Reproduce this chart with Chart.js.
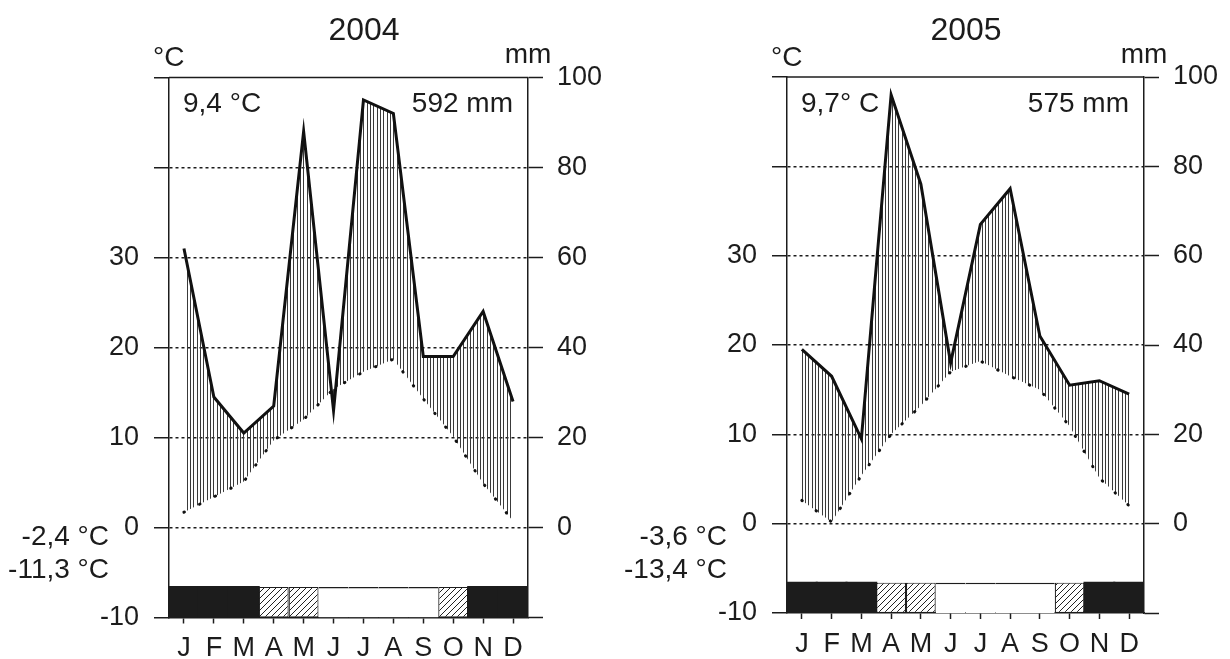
<!DOCTYPE html>
<html><head><meta charset="utf-8">
<script src="https://cdn.jsdelivr.net/npm/chart.js@4.4.1/dist/chart.umd.min.js"></script>
<style>
html,body{margin:0;padding:0;background:#fff;}
#wrap{position:relative;width:1230px;height:659px;overflow:hidden;}
canvas{position:absolute;top:0;}
</style></head>
<body><div id="wrap">
<canvas id="c2004" width="615" height="659" style="left:0px"></canvas>
<canvas id="c2005" width="615" height="659" style="left:615px"></canvas>
</div>
<script>
// ---- data ----
const months = ['J','F','M','A','M','J','J','A','S','O','N','D'];
const temp2004 = [1.7, 3.4, 5.1, 9.7, 12.0, 15.4, 17.3, 18.7, 14.3, 10.1, 4.9, 0.7];   // °C
const precip2004 = [62, 29, 21, 27, 88, 26, 95, 92, 38, 38, 48, 28];                 // mm
const temp2005 = [2.6, 0.2, 5.4, 10.0, 13.2, 17.0, 18.2, 16.5, 15.0, 10.9, 5.1, 2.0];
const precip2005 = [39, 33, 19, 96, 76, 36, 67, 75, 42, 31, 32, 29];
// frost: 2 = frost months (black), 1 = possible frost (hatched), 0 = frost-free
const frost2004 = [2, 2, 2, 1, 1, 0, 0, 0, 0, 1, 2, 2];
const frost2005 = [2, 2, 2, 1, 1, 0, 0, 0, 0, 1, 2, 2];
const tempTicks = [-10, 0, 10, 20, 30];
const precipTicks = [0, 20, 40, 60, 80, 100];
const titles = ['2004', '2005'];
const meanTemps = ['9,4 °C', '9,7° C'];
const totals = ['592 mm', '575 mm'];
const minMeans = ['-2,4 °C', '-3,6 °C'];
const absMins = ['-11,3 °C', '-13,4 °C'];

const BAND_BOTTOM = -10, BAND_TOP = -6.6;
const FONT = '"Liberation Sans", Arial, sans-serif';
const INK = '#1c1c1c';

function vHatch() {
  const c = document.createElement('canvas'); c.width = 10; c.height = 4;
  const g = c.getContext('2d');
  g.fillStyle = '#3a3a3a';
  [0, 3, 7].forEach(x => g.fillRect(x, 0, 1, 4));
  return g.createPattern(c, 'repeat');
}
function dHatch() {
  const c = document.createElement('canvas'); c.width = 6; c.height = 6;
  const g = c.getContext('2d');
  g.fillStyle = '#fff'; g.fillRect(0, 0, 6, 6);
  g.strokeStyle = '#222'; g.lineWidth = 1;
  g.beginPath();
  g.moveTo(0, 6); g.lineTo(6, 0);
  g.moveTo(-1, 1); g.lineTo(1, -1);
  g.moveTo(5, 7); g.lineTo(7, 5);
  g.stroke();
  return g.createPattern(c, 'repeat');
}

function annot(i, p) {
  return {
    id: 'annot' + i,
    afterDraw(chart) {
      const { ctx, chartArea: a } = chart;
      ctx.save();
      ctx.strokeStyle = INK; ctx.lineWidth = 1.5;
      ctx.beginPath(); ctx.moveTo(a.left, a.top); ctx.lineTo(a.right, a.top); ctx.stroke();
      ctx.fillStyle = INK;
      ctx.textBaseline = 'alphabetic';
      ctx.font = '32px ' + FONT; ctx.textAlign = 'center';
      ctx.fillText(titles[i], p.titleX, 40);
      ctx.font = '28px ' + FONT;
      ctx.textAlign = 'left';
      ctx.fillText('°C', a.left - 16, 66);
      ctx.fillText(meanTemps[i], a.left + 14, 112);
      ctx.textAlign = 'center';
      ctx.fillText('mm', a.right, 63);
      ctx.textAlign = 'right';
      ctx.fillText(totals[i], a.right - 15, 112);
      ctx.fillText(minMeans[i], a.left - 60, 545);
      ctx.fillText(absMins[i], a.left - 60, 578);
      ctx.restore();
    }
  };
}

function buildChart(id, i, p) {
  const tickFont = { family: FONT, size: 27 };
  return new Chart(document.getElementById(id), {
    data: {
      labels: months,
      datasets: [
        {
          type: 'bar', label: 'frost', yAxisID: 'y',
          data: p.frost.map(() => [BAND_BOTTOM, BAND_TOP]),
          backgroundColor: p.frost.map(f => f === 2 ? INK : f === 1 ? dHatch() : '#ffffff'),
          borderColor: INK,
          borderWidth: p.frost.map(f => f === 2 ? 0 : f === 1 ? 1.2 : { top: 1.5, bottom: 0, left: 0, right: 0 }),
          inflateAmount: p.frost.map(f => f === 2 ? 1 : 0),
          borderSkipped: false, barPercentage: 1, categoryPercentage: 1, order: 2
        },
        {
          type: 'line', label: 'precip', yAxisID: 'y1', data: p.precip,
          borderColor: '#111', borderWidth: 3, pointRadius: 0, tension: 0,
          fill: 2, backgroundColor: vHatch(), order: 1, borderJoinStyle: 'miter'
        },
        {
          type: 'line', label: 'temp', yAxisID: 'y', data: p.temp,
          borderColor: '#111', borderWidth: 3, borderDash: [0.5, 17], borderCapStyle: 'round',
          pointRadius: 0, tension: 0, fill: false, order: 0
        }
      ]
    },
    options: {
      responsive: false, animation: false, devicePixelRatio: 1,
      layout: { padding: { top: p.top, left: 0, right: 0, bottom: 0 } },
      plugins: { legend: { display: false }, tooltip: { enabled: false } },
      scales: {
        x: {
          type: 'category', offset: true,
          grid: { drawOnChartArea: false, drawTicks: true, tickLength: 6, tickColor: INK, tickWidth: 1.5, offset: false },
          border: { display: true, color: INK, width: 1.5 },
          ticks: { font: tickFont, color: INK, padding: 9, maxRotation: 0, autoSkip: false },
          afterFit: s => { s.height = p.xH; }
        },
        y: {
          position: 'left', min: -10, max: 50,
          ticks: { stepSize: 10, font: tickFont, color: INK, padding: 15,
                   callback: v => tempTicks.includes(v) ? String(v) : '' },
          grid: { color: c => (c.tick && c.tick.value >= 0 && c.tick.value <= 40) ? INK : 'rgba(0,0,0,0)',
                  lineWidth: 1.5, drawTicks: true, tickLength: 15, tickColor: INK, tickWidth: 1.5 },
          border: { display: true, color: INK, width: 1.5, dash: [3, 3] },
          afterFit: s => { s.width = p.yW; }
        },
        y1: {
          position: 'right', min: -20, max: 100,
          ticks: { stepSize: 20, font: tickFont, color: INK, padding: 14,
                   callback: v => precipTicks.includes(v) ? String(v) : '' },
          grid: { drawOnChartArea: false, drawTicks: true, tickLength: 15, tickColor: INK, tickWidth: 1.5 },
          border: { display: true, color: INK, width: 1.5 },
          afterFit: s => { s.width = p.y1W; }
        }
      }
    },
    plugins: [annot(i, p)]
  });
}

buildChart('c2004', 0, { temp: temp2004, precip: precip2004, frost: frost2004,
  top: 77.5, xH: 41.5, yW: 169, y1W: 87, titleX: 364 });
buildChart('c2005', 1, { temp: temp2005, precip: precip2005, frost: frost2005,
  top: 77, xH: 46, yW: 172, y1W: 86, titleX: 351 });
</script>
</body></html>
